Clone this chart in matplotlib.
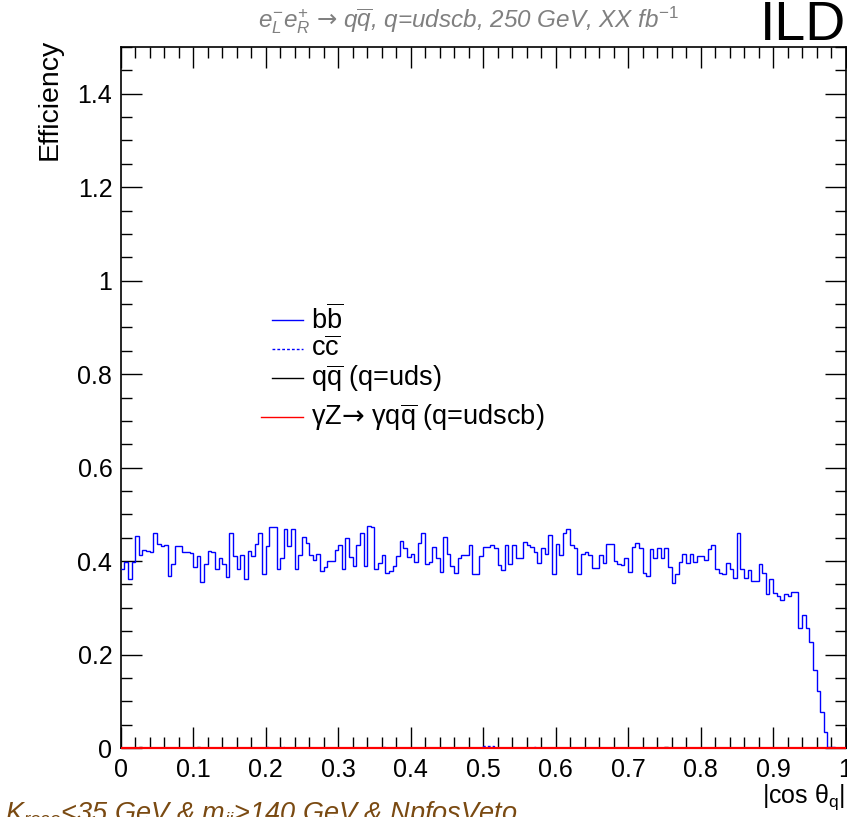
import numpy as np
import matplotlib
matplotlib.use("Agg")
import matplotlib.pyplot as plt
from matplotlib.ticker import MultipleLocator, FuncFormatter
from matplotlib.lines import Line2D

plt.rcParams["font.family"] = ["Liberation Sans", "DejaVu Sans"]
plt.rcParams["mathtext.fontset"] = "custom"
plt.rcParams["mathtext.rm"] = "Liberation Sans"
plt.rcParams["mathtext.it"] = "Liberation Sans:italic"
plt.rcParams["mathtext.bf"] = "Liberation Sans:bold"
plt.rcParams["mathtext.sf"] = "DejaVu Sans"

# |cos theta_q| binning: 200 bins from 0 to 1
n_bins = 200
x_min, x_max = 0.0, 1.0

# Selection efficiency per bin for b-bbar events
eff_bb = [
    # 0.000 - 0.200
    0.383, 0.398, 0.361, 0.398, 0.454, 0.414, 0.423, 0.421, 0.420, 0.461,
    0.437, 0.432, 0.434, 0.368, 0.393, 0.432, 0.433, 0.420, 0.420, 0.418,
    0.387, 0.411, 0.356, 0.393, 0.421, 0.420, 0.382, 0.407, 0.393, 0.366,
    0.459, 0.411, 0.382, 0.414, 0.362, 0.421, 0.411, 0.437, 0.461, 0.373,
    # 0.200 - 0.400
    0.432, 0.473, 0.473, 0.384, 0.407, 0.468, 0.432, 0.468, 0.384, 0.413,
    0.451, 0.439, 0.413, 0.403, 0.416, 0.378, 0.387, 0.400, 0.400, 0.423,
    0.434, 0.382, 0.449, 0.408, 0.389, 0.434, 0.461, 0.389, 0.475, 0.473,
    0.382, 0.396, 0.413, 0.375, 0.378, 0.389, 0.411, 0.444, 0.428, 0.408,
    # 0.400 - 0.600
    0.416, 0.398, 0.439, 0.461, 0.394, 0.398, 0.430, 0.406, 0.377, 0.451,
    0.416, 0.389, 0.375, 0.406, 0.413, 0.413, 0.434, 0.373, 0.373, 0.411,
    0.430, 0.430, 0.434, 0.428, 0.391, 0.380, 0.434, 0.394, 0.434, 0.406,
    0.406, 0.441, 0.434, 0.430, 0.420, 0.396, 0.427, 0.416, 0.456, 0.373,
    # 0.600 - 0.800
    0.437, 0.413, 0.461, 0.468, 0.434, 0.427, 0.373, 0.416, 0.420, 0.413,
    0.386, 0.386, 0.413, 0.396, 0.437, 0.437, 0.400, 0.394, 0.391, 0.406,
    0.377, 0.430, 0.439, 0.427, 0.375, 0.368, 0.425, 0.406, 0.427, 0.406,
    0.427, 0.387, 0.353, 0.373, 0.398, 0.416, 0.396, 0.416, 0.398, 0.411,
    # 0.800 - 1.000
    0.411, 0.403, 0.425, 0.434, 0.384, 0.375, 0.373, 0.396, 0.384, 0.364,
    0.459, 0.382, 0.363, 0.380, 0.357, 0.357, 0.394, 0.375, 0.330, 0.361,
    0.332, 0.325, 0.316, 0.330, 0.325, 0.334, 0.334, 0.257, 0.284, 0.257,
    0.227, 0.167, 0.122, 0.078, 0.034, 0.003, 0.002, 0.000, 0.000, 0.000,
]

# c-cbar and light-quark samples: nearly no events pass, only a few sparse bins
cc_bins = [40, 44, 72, 100, 101, 102, 114]
cc_vals = [0.003, 0.002, 0.002, 0.004, 0.004, 0.004, 0.002]
qq_bins = [5, 21, 150]
qq_vals = [0.002, 0.002, 0.002]
# radiative return sample: nothing passes
eff_gz = [0.0] * n_bins

legend_labels = [
    r"$\mathrm{b\overline{b}}$",
    r"$\mathrm{c\overline{c}}$",
    r"$\mathrm{q\overline{q}}$ (q=uds)",
    r"γZ$\mathsf{→}$ γ$\mathrm{q\overline{q}}$ (q=udscb)",
]

W, H = 847, 817
fig = plt.figure(figsize=(W / 100, H / 100), dpi=100)
fig.patch.set_facecolor("white")


def fx(px):
    return px / W


def fy(py):
    return 1 - py / H


ax_l, ax_r, ax_t, ax_b = 120.7, 845.5, 47.0, 748.0
ax = fig.add_axes([fx(ax_l), fy(ax_b), fx(ax_r - ax_l), (ax_b - ax_t) / H])

edges = np.linspace(x_min, x_max, n_bins + 1)
eff_cc = np.zeros(n_bins)
eff_cc[cc_bins] = cc_vals
eff_qq = np.zeros(n_bins)
eff_qq[qq_bins] = qq_vals

ax.stairs(eff_bb, edges, baseline=None, color="#0000ff", lw=1.0, zorder=3)
ax.stairs(eff_cc, edges, baseline=None, color="#0000ff", lw=1.0,
          ls=(0, (2, 1.5)), zorder=3)
ax.stairs(eff_qq, edges, baseline=None, color="black", lw=1.0, zorder=3)
ax.stairs(eff_gz, edges, baseline=None, color="#ff0000", lw=1.6, zorder=5,
          clip_on=False)

ax.set_xlim(x_min, x_max)
ax.set_ylim(0, 1.5)
ax.xaxis.set_major_locator(MultipleLocator(0.1))
ax.xaxis.set_minor_locator(MultipleLocator(0.02))
ax.yaxis.set_major_locator(MultipleLocator(0.2))
ax.yaxis.set_minor_locator(MultipleLocator(0.05))
fmt = FuncFormatter(lambda v, p: "%g" % round(v, 3))
ax.xaxis.set_major_formatter(fmt)
ax.yaxis.set_major_formatter(fmt)
ax.tick_params(which="both", direction="in", top=True, right=True,
               width=1.0, colors="black", labelsize=18)
ax.tick_params(which="major", length=15)
ax.tick_params(which="minor", length=8)
ax.tick_params(axis="x", which="major", pad=7)
ax.tick_params(axis="y", which="major", pad=6)
for s in ax.spines.values():
    s.set_linewidth(1.2)

# legend block
leg_rows = [
    (320, 272, "#0000ff", "-"),
    (349, 272, "#0000ff", (0, (2, 1.5))),
    (378, 272, "black", "-"),
    (417, 261, "#ff0000", "-"),
]
for (py, x0, col, ls), lab in zip(leg_rows, legend_labels):
    fig.add_artist(Line2D([fx(x0), fx(303)], [fy(py), fy(py)], color=col,
                          ls=ls, lw=1.0))
    fig.text(fx(311), fy(py), lab, ha="left", va="center", size=19.5)

fig.text(fx(50), fy(39), "Efficiency", rotation=90, ha="center", va="top",
         size=20.5)
fig.text(fx(845), fy(797), r"|cos θ$_{\mathrm{q}}$|", ha="right",
         va="center", size=18)

fig.text(fx(468), fy(20),
         r"$e^{-}_{L}e^{+}_{R}$ $\mathsf{→}$ q$\overline{q}$, q=udscb, 250 GeV, XX fb$^{-1}$",
         ha="center", va="center", size=17.5, style="italic", color="#808080")
fig.text(fx(846), fy(26), "ILD", ha="right", va="center", size=40,
         color="black")
fig.text(fx(5), fy(821),
         r"$K_{reco}$<35 GeV & $m_{jj}$>140 GeV & NpfosVeto",
         ha="left", va="baseline", size=19.5, style="italic", color="#7a4a12")

fig.savefig("out.png", dpi=100)
